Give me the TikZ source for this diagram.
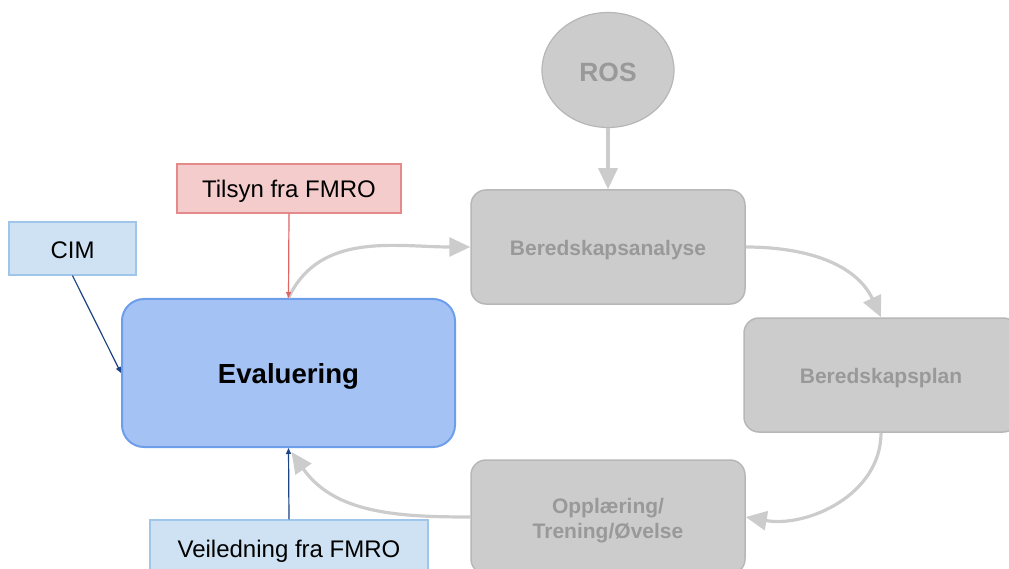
\documentclass[tikz,border=0pt]{standalone}
\usepackage{fontspec}
\setmainfont{Liberation Sans}
\usetikzlibrary{arrows.meta,shapes.geometric}

\definecolor{boxgray}{HTML}{CCCCCC}
\definecolor{edgegray}{HTML}{B7B7B7}
\definecolor{textgray}{HTML}{999999}
\definecolor{flowgray}{HTML}{CCCCCC}
\definecolor{evalfill}{HTML}{A4C2F4}
\definecolor{evaledge}{HTML}{6D9EEB}
\definecolor{infofill}{HTML}{CFE2F3}
\definecolor{infoedge}{HTML}{9FC5E8}
\definecolor{auditfill}{HTML}{F4CCCC}
\definecolor{auditedge}{HTML}{E58A8A}
\definecolor{navy}{HTML}{1C4587}
\definecolor{redline}{HTML}{E06666}

% lower a label inside its node without changing the node's size
\newcommand{\lowertext}[2]{\raisebox{-#1}[\height][\depth]{#2}}

\tikzset{
  stage/.style={rectangle, rounded corners=15, fill=boxgray, draw=edgegray,
    line width=1.5, minimum width=274, minimum height=114, inner sep=0,
    text=textgray, font=\fontsize{21}{25}\selectfont\bfseries},
  infobox/.style={rectangle, fill=infofill, draw=infoedge, line width=1.2,
    inner sep=0, font=\fontsize{24}{28}\selectfont},
  flow/.style={draw=flowgray, line width=3.2,
    -{Triangle[width=19,length=21]}},
  thinlink/.style={line width=1.2, -{Triangle[width=5,length=6]}},
}

\begin{document}
\begin{tikzpicture}[x=1pt,y=-1pt]
\useasboundingbox (0,0) rectangle (1009,569);
\clip (0,0) rectangle (1009,569);

% process cycle
\node[ellipse, fill=boxgray, draw=edgegray, line width=1.2,
      minimum width=132, minimum height=115, inner sep=0,
      text=textgray, font=\fontsize{26.4}{30}\selectfont\bfseries] (ros) at (608,70) {\lowertext{2pt}{ROS}};
\node[stage] (ana) at (608,247) {\lowertext{3pt}{Beredskapsanalyse}};
\node[stage] (plan) at (881,375) {\lowertext{3pt}{Beredskapsplan}};
\node[stage] (ovelse) at (608,517)
  {\lowertext{4pt}{\begin{tabular}{@{}c@{}}Opplæring/\\Trening/Øvelse\end{tabular}}};

\node[rectangle, rounded corners=22, fill=evalfill, draw=evaledge, line width=2,
      minimum width=333, minimum height=148, inner sep=0,
      font=\fontsize{27.6}{32}\selectfont\bfseries] (eval) at (288.5,373) {\lowertext{3pt}{Evaluering}};

% external inputs
\node[rectangle, fill=auditfill, draw=auditedge, line width=1.2,
      minimum width=224, minimum height=49, inner sep=0,
      font=\fontsize{24}{28}\selectfont] (tilsyn) at (289,188.5) {\lowertext{3pt}{Tilsyn fra FMRO}};
\node[infobox, minimum width=127, minimum height=53] (cim) at (72.5,248.5) {\lowertext{2pt}{CIM}};
\node[infobox, minimum width=278, minimum height=54] (vei) at (289,547) {\lowertext{4pt}{Veiledning fra FMRO}};

% cycle connectors
\draw[flow] (ros) -- (ana);
\draw[flow] (ana.east) to[out=0,in=115] (plan.north);
\draw[flow] (plan.south) to[out=-90,in=-10] (ovelse.east);
\draw[flow] (ovelse.west) to[out=180,in=-55] ([xshift=3pt,yshift=-4pt]eval.south);
\draw[flow] (eval.north) to[out=65,in=180] (ana.west);

% input connectors
\draw[thinlink, draw=redline, fill=redline] (tilsyn.south) -- (eval.north);
\draw[thinlink, draw=navy, fill=navy] (cim.south) -- (eval.west);
\draw[thinlink, draw=navy, fill=navy] (vei.north) -- (eval.south);
\end{tikzpicture}
\end{document}
